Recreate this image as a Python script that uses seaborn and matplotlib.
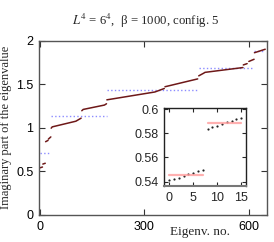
import numpy as np
import matplotlib
matplotlib.use("Agg")
import matplotlib.pyplot as plt
import seaborn as sns

# inset: first 16 eigenvalues (imaginary part)
inset_idx = list(range(16))
inset_vals = [0.5412, 0.5425, 0.5433, 0.5447, 0.5461, 0.5472, 0.5486, 0.5499,
              0.5838, 0.5849, 0.5863, 0.5874, 0.5891, 0.5904, 0.5918, 0.5929]

# main curve, read off as pieces (eigenvalue no., imaginary part)
seg_x = [[16, 23], [24, 31],
         [32, 35, 103, 118],
         [120, 124, 185, 191],
         [192, 330, 357],
         [359, 453],
         [456, 470, 474, 583],
         [584, 595], [600, 615],
         [616, 647]]
seg_y = [[0.84, 0.855], [0.87, 0.895],
         [0.995, 1.01, 1.075, 1.11],
         [1.195, 1.21, 1.26, 1.275],
         [1.32, 1.41, 1.45],
         [1.47, 1.56],
         [1.595, 1.625, 1.635, 1.69],
         [1.72, 1.735], [1.76, 1.785],
         [1.86, 1.9]]

# group averages (blue dotted)
grp_start = [0, 32, 192, 456, 616]
grp_end = [31, 191, 455, 615, 647]
grp_mean = [0.71, 1.13, 1.43, 1.68, 1.885]

sns.set_theme(style="ticks")
plt.rcParams['font.family'] = ['Liberation Sans', 'DejaVu Sans']
plt.rcParams['mathtext.fontset'] = 'stix'

fig = plt.figure(figsize=(2.74, 2.42), dpi=100)
ax = fig.add_axes([0.1423, 0.1116, 0.832, 0.721])

curve = '#6e1818'
for s, e, m in zip(grp_start, grp_end, grp_mean):
    ax.plot([s, e], [m, m], ls=':', color='#8c8cff', lw=1.0)

ax.plot(inset_idx[:8], inset_vals[:8], color=curve, lw=1.1)
ax.plot(inset_idx[8:], inset_vals[8:], color=curve, lw=1.1)
for xs, ys in zip(seg_x, seg_y):
    ax.plot(xs, ys, color=curve, lw=1.1)

ax.set_xlim(-3, 652)
ax.set_ylim(0, 2)
ax.set_xticks([0, 300, 600])
ax.set_yticks([0, 0.5, 1, 1.5, 2])
ax.set_yticklabels(['0', '0.5', '1', '1.5', '2'])
ax.tick_params(direction='in', length=4, width=0.8, top=True, right=True,
               labelsize=9, colors='#333333', labelcolor='black', pad=4)
for sp in ax.spines.values():
    sp.set_color('#555555')
    sp.set_linewidth(1.0)

ax.set_ylabel('Imaginary part of the eigenvalue', family='Liberation Serif',
              fontsize=9, labelpad=3)
ax.text(0.705, -0.098, 'Eigenv. no.', transform=ax.transAxes, ha='center',
        va='center', family='Liberation Serif', fontsize=9.5)
fig.text(0.533, 1 - 21 / 242, r'$L^4$ = 6$^4$,  β = 1000, config. 5',
         ha='center', va='center', family='Liberation Serif', fontsize=9.2)

# inset
ins = fig.add_axes([0.5996, 0.2314, 0.2982, 0.3211])
m1 = np.mean(inset_vals[:8])
m2 = np.mean(inset_vals[8:])
ins.plot([0, 7], [m1, m1], color='#ff9c9c', lw=1.6, alpha=0.8)
ins.plot([8, 15], [m2, m2], color='#ff9c9c', lw=1.6, alpha=0.8)
sns.scatterplot(x=inset_idx, y=inset_vals, ax=ins, color='#222222', s=2.5,
                linewidth=0, legend=False)
ins.set_xlim(-1, 16)
ins.set_ylim(0.5364, 0.6006)
ins.set_xticks([0, 5, 10, 15])
ins.set_yticks([0.54, 0.56, 0.58, 0.6])
ins.set_yticklabels(['0.54', '0.56', '0.58', '0.6'])
ins.tick_params(direction='in', length=3, width=0.8, top=True, right=True,
                labelsize=9, pad=4)
for sp in ins.spines.values():
    sp.set_color('#222222')
    sp.set_linewidth(1.0)
ins.spines['bottom'].set_color('#777777')
ins.spines['bottom'].set_linewidth(1.5)

fig.savefig('out.png', dpi=100)
